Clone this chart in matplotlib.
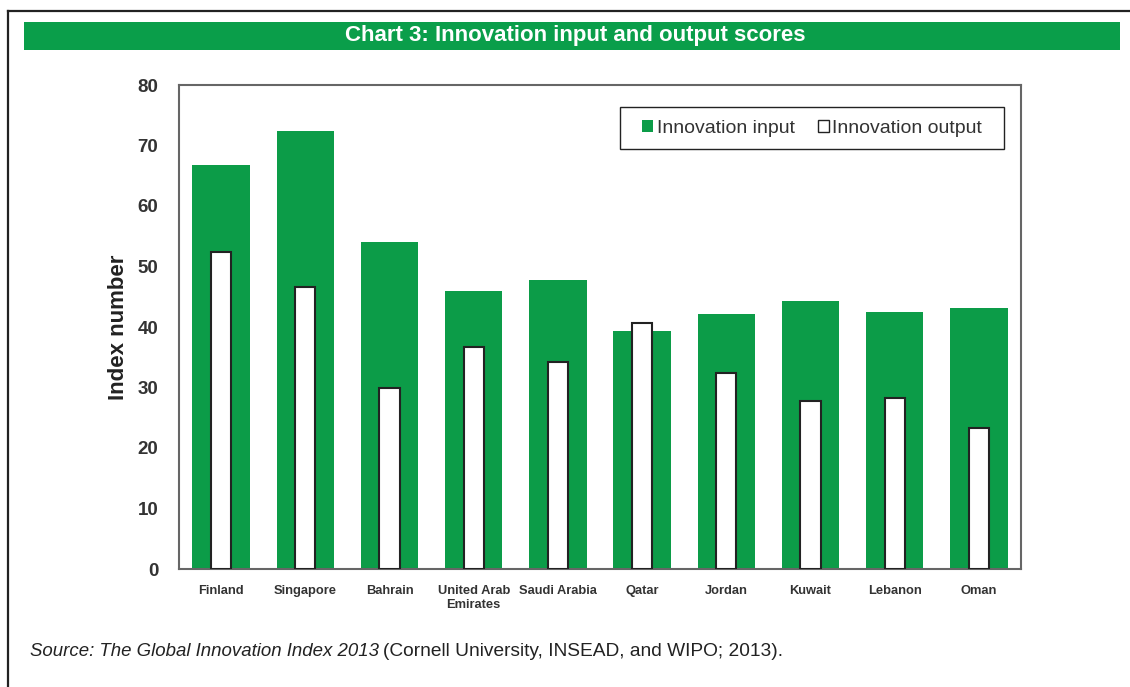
import numpy as np
import matplotlib
matplotlib.use('Agg')
import matplotlib.pyplot as plt
from matplotlib.patches import Rectangle, Patch
from matplotlib.lines import Line2D

# data
countries = ['Finland', 'Singapore', 'Bahrain', 'United Arab\nEmirates', 'Saudi Arabia',
             'Qatar', 'Jordan', 'Kuwait', 'Lebanon', 'Oman']
innovation_input = [66.8, 72.4, 54.0, 45.9, 47.8, 39.3, 42.1, 44.3, 42.5, 43.1]
innovation_output = [52.4, 46.6, 29.9, 36.7, 34.2, 40.7, 32.4, 27.8, 28.3, 23.3]
yticks = [0, 10, 20, 30, 40, 50, 60, 70, 80]

green = '#0c9c48'
arial = ['Liberation Sans', 'DejaVu Sans']

fig = plt.figure(figsize=(11.3, 6.87), dpi=100)
W, H = 1130, 687

# outer frame (top and left edges only visible)
fig.add_artist(Line2D([8 / W, 1], [1 - 11 / H, 1 - 11 / H], color='#222222', lw=1.6))
fig.add_artist(Line2D([8 / W, 8 / W], [0, 1 - 11 / H], color='#222222', lw=1.6))

# title bar
fig.add_artist(Rectangle((24 / W, 1 - 50 / H), (1120 - 24) / W, 28 / H,
                         facecolor='#0a9e4a', edgecolor='none'))
fig.text(575 / W, 1 - 35.5 / H, 'Chart 3: Innovation input and output scores',
         color='white', fontsize=16, fontweight='bold', family=arial,
         ha='center', va='center')

ax = fig.add_axes([179 / W, 1 - 569 / H, (1021 - 179) / W, (569 - 85) / H])
x = np.arange(len(countries))
ax.bar(x, innovation_input, width=0.68, color=green, edgecolor='none', zorder=2)
ax.bar(x, innovation_output, width=0.24, color='white', edgecolor='#222222',
       linewidth=1.5, zorder=3)

ax.set_xlim(-0.5, len(countries) - 0.5)
ax.set_ylim(0, 80)
ax.set_yticks(yticks)
ax.set_xticks(x)
ax.set_xticklabels(countries, family=arial, fontsize=9.3, fontweight='bold',
                   color='#333333', linespacing=1.25)
for lab in ax.get_yticklabels():
    lab.set_family(arial)
    lab.set_fontweight('bold')
    lab.set_fontsize(13.5)
    lab.set_color('#333333')
ax.tick_params(axis='y', length=0, pad=15)
ax.tick_params(axis='x', length=0, pad=11.5)
for s in ax.spines.values():
    s.set_color('#666666')
    s.set_linewidth(1.5)

ax.set_ylabel('Index number', family=arial, fontsize=16, fontweight='bold', color='#222222')
ax.yaxis.set_label_coords(-0.059, 0.5)

# legend, with its frame drawn as a plain box
handles = [Patch(facecolor=green, edgecolor='none', label='Innovation input'),
           Patch(facecolor='white', edgecolor='#222222', linewidth=1.0, label='Innovation output')]
leg = ax.legend(handles=handles, loc='center', bbox_to_anchor=(0.752, 0.911),
                ncol=2, frameon=False, handlelength=0.55, handleheight=0.55,
                handletextpad=0.2, columnspacing=1.2, borderpad=0, borderaxespad=0,
                prop={'family': arial, 'size': 14})
for t in leg.get_texts():
    t.set_color('#333333')
ax.add_patch(Rectangle((0.5238, 0.8678), 0.456, 0.0868, transform=ax.transAxes,
                       facecolor='none', edgecolor='#222222', linewidth=1.0, zorder=5))

# source line: italic part then plain part
t1 = fig.text(30 / W, 1 - 651 / H, 'Source: The Global Innovation Index 2013',
              family=arial, style='italic', fontsize=13.4, color='#222222', va='center')
fig.canvas.draw()
bb = t1.get_window_extent(renderer=fig.canvas.get_renderer())
fig.text(bb.x1 / W + 4 / W, 1 - 651 / H, '(Cornell University, INSEAD, and WIPO; 2013).',
         family=arial, fontsize=13.8, color='#222222', va='center')

fig.savefig('out.png', dpi=100)
